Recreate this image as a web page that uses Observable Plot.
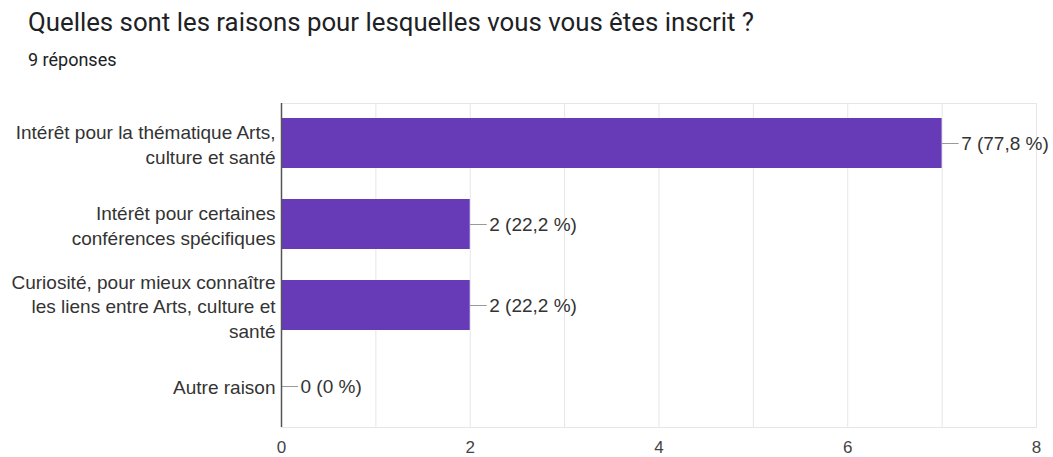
<!DOCTYPE html>
<html>
<head>
<meta charset="utf-8">
<script src="https://cdn.jsdelivr.net/npm/d3@7"></script>
<script src="https://cdn.jsdelivr.net/npm/@observablehq/plot@0.6"></script>
<style>
  html, body { margin: 0; padding: 0; background: #fff; }
  #wrap { position: relative; width: 1053px; height: 457px; overflow: hidden; }
  #title { position: absolute; left: 28px; top: 6px; font-family: Roboto, "Liberation Sans", sans-serif; font-size: 25.8px; line-height: 32px; color: #202124; white-space: nowrap; }
  #subtitle { position: absolute; left: 28px; top: 48px; font-family: Roboto, "Liberation Sans", sans-serif; font-size: 18px; line-height: 24px; color: #202124; white-space: nowrap; }
  #chart { position: absolute; left: 0; top: 90px; }
</style>
</head>
<body>
<div id="wrap">
  <div id="title">Quelles sont les raisons pour lesquelles vous vous êtes inscrit ?</div>
  <div id="subtitle">9 réponses</div>
  <div id="chart"></div>
</div>
<script>
const categories = [
  "Intérêt pour la thématique Arts,\nculture et santé",
  "Intérêt pour certaines\nconférences spécifiques",
  "Curiosité, pour mieux connaître\nles liens entre Arts, culture et\nsanté",
  "Autre raison"
];
const counts = [7, 2, 2, 0];
const valueLabels = ["7 (77,8 %)", "2 (22,2 %)", "2 (22,2 %)", "0 (0 %)"];
const xTicks = [0, 2, 4, 6, 8];
const gridTicks = [1, 2, 3, 4, 5, 6, 7, 8];

const data = categories.map((c, i) => ({cat: c, value: counts[i], label: valueLabels[i]}));

const font = "'Liberation Sans', Arial, sans-serif";

const plot = Plot.plot({
  width: 1053,
  height: 367,
  marginLeft: 281,
  marginRight: 17,
  marginTop: 13,
  marginBottom: 30,
  style: {fontFamily: font, background: "#fff", color: "#333"},
  x: {domain: [0, 8]},
  y: {domain: categories, paddingInner: 0.38, paddingOuter: 0.19},
  marks: [
    Plot.gridX(gridTicks, {stroke: "#e6e6e6", strokeOpacity: 1}),
    Plot.frame({stroke: "#e6e6e6"}),
    Plot.barX(data, {y: "cat", x: "value", fill: "#673ab7"}),
    Plot.ruleY(data, {
      y: "cat", x1: "value", x2: "value", stroke: "#999", strokeWidth: 1,
      render(index, scales, values, dimensions, context, next) {
        const g = next(index, scales, values, dimensions, context);
        d3.select(g).selectAll("line").attr("x2", function() { return +this.getAttribute("x1") + 17; });
        return g;
      }
    }),
    Plot.text(data, {y: "cat", x: "value", text: "label", textAnchor: "start", dx: 19, fontSize: 19, fill: "#333"}),
    Plot.ruleX([0], {stroke: "#555", strokeWidth: 1.5}),
    Plot.axisX(xTicks, {tickSize: 0, tickPadding: 13, fontSize: 17, fill: "#444", label: null}),
    Plot.axisY({tickSize: 0, tickPadding: 6, fontSize: 19, fill: "#333", lineHeight: 1.3, label: null})
  ]
});
document.getElementById("chart").appendChild(plot);
</script>
</body>
</html>
